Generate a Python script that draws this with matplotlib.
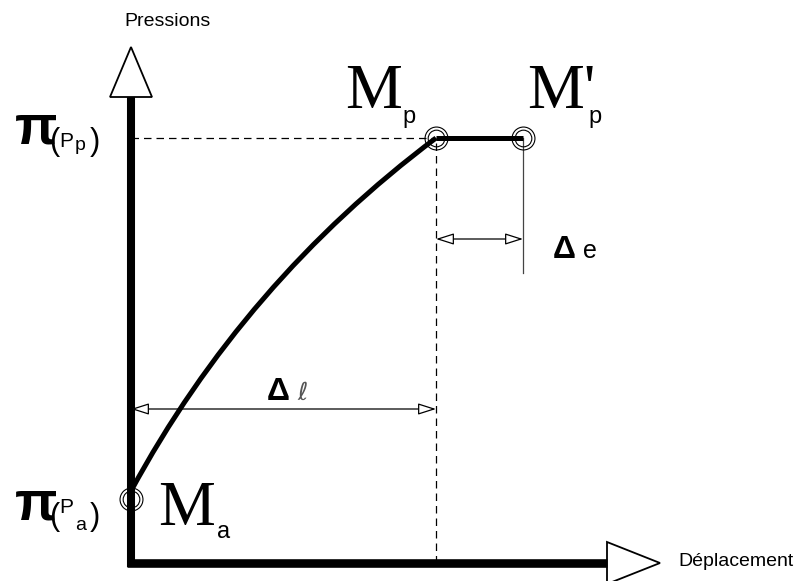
import matplotlib
matplotlib.use("Agg")
import matplotlib.pyplot as plt
from matplotlib.patches import Polygon, PathPatch
from matplotlib.path import Path

# rising branch Ma -> Mp, as a quadratic Bezier (start, control, end),
# read off the sketch (arbitrary units)
curve_ctrl_x = [0, 113, 305]
curve_ctrl_y = [72, 281, 425]

# plateau Mp -> M'p
plateau_x = [305, 392]
plateau_y = [425, 425]

# characteristic points Ma, Mp, M'p
point_names = ["Ma", "Mp", "M'p"]
point_x = [0, 305, 392]
point_y = [64, 425, 425]

axis_x_len = 476
axis_y_len = 466

SANS = "Liberation Sans"
SERIF = "Liberation Serif"

fig = plt.figure(figsize=(8.04, 5.81), dpi=100)
ax = fig.add_axes([0, 0, 1, 1])
ax.set_xlim(-131, 673)
ax.set_ylim(-18, 563)
ax.axis("off")

# axes with open triangular heads
ax.plot([0, 0], [-4, axis_y_len], color="black", lw=5.8, solid_capstyle="butt")
ax.plot([-4, axis_x_len], [0, 0], color="black", lw=6.2, solid_capstyle="butt")
ax.add_patch(Polygon([(-21, axis_y_len), (21, axis_y_len), (0, axis_y_len + 50)],
                     closed=True, fc="white", ec="black", lw=1.3))
ax.add_patch(Polygon([(axis_x_len, 21), (axis_x_len, -21), (axis_x_len + 53, 0)],
                     closed=True, fc="white", ec="black", lw=1.3))

# guide lines from Mp
mp_x, mp_y = point_x[1], point_y[1]
ax.plot([0, mp_x], [mp_y, mp_y], color="black", lw=0.9, dashes=(6, 4))
ax.plot([mp_x, mp_x], [0, mp_y], color="black", lw=0.9, dashes=(6, 4))
ax.plot([point_x[2], point_x[2]], [point_y[2], 290], color="#444444", lw=0.9)

# the curve
verts = list(zip(curve_ctrl_x, curve_ctrl_y))
codes = [Path.MOVETO, Path.CURVE3, Path.CURVE3]
ax.add_patch(PathPatch(Path(verts, codes), fc="none", ec="black", lw=3.6,
                       capstyle="butt"))
ax.plot(plateau_x, plateau_y, color="black", lw=3.6, solid_capstyle="butt")

# double circles on points
ax.plot(point_x, point_y, "o", ms=16.5, mfc="none", mec="black", mew=0.8)
ax.plot(point_x, point_y, "o", ms=12, mfc="none", mec="black", mew=0.8)

# dimension arrows
arrow = dict(arrowstyle="<|-|>,head_length=1.1,head_width=0.35", fc="white",
             ec="black", lw=0.9, shrinkA=0, shrinkB=0)
ax.annotate("", xy=(mp_x, 324), xytext=(point_x[2], 324), arrowprops=arrow)
ax.annotate("", xy=(0, 154), xytext=(mp_x, 154), arrowprops=arrow)

# axis titles
ax.text(36, 537, "Pressions", fontsize=14, family=SANS, ha="center", va="baseline")
ax.text(547, -3, "Déplacement", fontsize=14, family=SANS, ha="left", va="baseline")

# pi labels on the pressure axis
for base, sub, y_pi, y_par, y_P, y_sub in [("P", "p", 420, 413, 416, 413),
                                           ("P", "a", 43, 38, 50, 33)]:
    ax.text(-116, y_pi, "π", fontsize=40, fontweight="bold", family=SANS,
            ha="left", va="baseline")
    ax.text(-82, y_par, "(", fontsize=22, family=SANS, ha="left", va="baseline")
    ax.text(-72, y_P, base, fontsize=15, family=SANS, ha="left", va="baseline")
    ax.text(-56, y_sub, sub, fontsize=14, family=SANS, ha="left", va="baseline")
    ax.text(-41, y_par, ")", fontsize=22, family=SANS, ha="left", va="baseline")

# point labels
ax.text(214, 455, "M", fontsize=46, family=SERIF, ha="left", va="baseline")
ax.text(271, 440, "p", fontsize=17, family=SANS, ha="left", va="baseline")
ax.text(396, 455, "M'", fontsize=46, family=SERIF, ha="left", va="baseline")
ax.text(457, 440, "p", fontsize=17, family=SANS, ha="left", va="baseline")
ax.text(27, 38, "M", fontsize=46, family=SERIF, ha="left", va="baseline")
ax.text(86, 25, "a", fontsize=17, family=SANS, ha="left", va="baseline")

# delta labels
ax.text(422, 305, "Δ", fontsize=23, fontweight="bold", family=SANS,
        ha="left", va="baseline")
ax.text(452, 305, "e", fontsize=18, family=SANS, ha="left", va="baseline")
ax.text(136, 163, "Δ", fontsize=23, fontweight="bold", family=SANS,
        ha="left", va="baseline")
ax.text(166, 163, r"$\ell$", fontsize=18, color="#555555", ha="left", va="baseline")

fig.savefig("out.png", dpi=100)
